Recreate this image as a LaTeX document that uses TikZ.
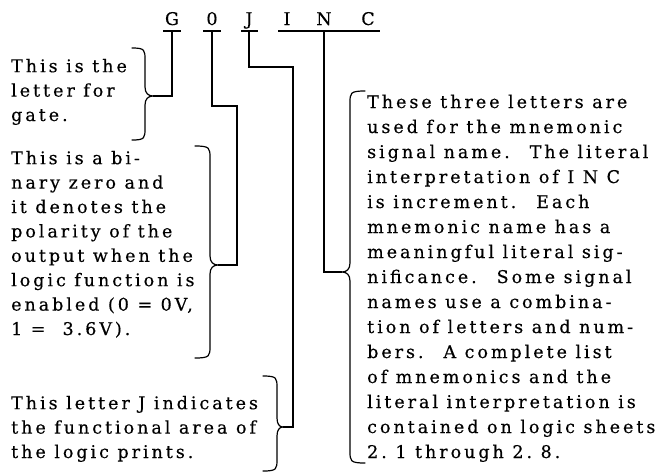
\documentclass[tikz,border=0pt]{standalone}
\usepackage{fontspec}
\usetikzlibrary{calc}
\newfontfamily\typefont[LetterSpace=17,FakeBold=0.4]{DejaVu Serif}

% curly brace: end x, spine x, tip x, top y, tip y, bottom y
\newcommand{\curly}[6]{%
  \draw[bracepath] (#1,#4)
    .. controls ({#2},{#4}) and ({#2},{#4+2}) .. ({#2},{#4+12})
    -- ({#2},{#5-9})
    .. controls ({#2},{#5-3}) and ({#2+(#3-#2)*0.4},{#5}) .. ({#3},{#5})
    .. controls ({#2+(#3-#2)*0.4},{#5}) and ({#2},{#5+3}) .. ({#2},{#5+9})
    -- ({#2},{#6-12})
    .. controls ({#2},{#6-2}) and ({#2},{#6}) .. ({#1},{#6});
}

\begin{document}
\begin{tikzpicture}[x=1pt,y=-1pt,
  txt/.style={font=\typefont\fontsize{17.5}{24.4}\selectfont, align=left,
              inner sep=0pt, anchor=base west},
  rtxt/.style={txt, font=\typefont\fontsize{17.5}{25}\selectfont},
  letter/.style={font=\typefont\fontsize{17.5}{20}\selectfont,
                 inner sep=0pt, anchor=base},
  link/.style={line width=1.1pt},
  uline/.style={line width=1.1pt},
  bracepath/.style={line width=1.2pt, line cap=round}]
\useasboundingbox[fill=white] (0,0) rectangle (657,475);

% the signal name
\node[letter] (G)    at (172,25) {G};
\node[letter] (zero) at (212,25) {0};
\node[letter] (J)    at (249,25) {J};
\node[letter] (I)    at (287,25) {I};
\node[letter] (N)    at (324,25) {N};
\node[letter] (C)    at (368,25) {C};

\coordinate (ul) at (0,31);
\draw[uline] ($(G |- ul)+(-9,0)$) -- ($(G |- ul)+(9,0)$);
\draw[uline] ($(zero |- ul)+(-9,0)$) -- ($(zero |- ul)+(9,0)$);
\draw[uline] ($(J |- ul)+(-8,0)$) -- ($(J |- ul)+(9,0)$);
\draw[uline] ($(I |- ul)+(-9,0)$) -- ($(C |- ul)+(12,0)$);

% explanations (each node is placed by the baseline of its last line)
\node[txt] (gtext) at (11,121) {This is the\\letter for\\gate.};
\node[txt] (zerotext) at (11,335) {This is a bi-\\nary zero and\\it denotes the\\polarity of the\\output when the\\logic function is\\enabled (0 = 0V,\\1 =~ 3.6V).};
\node[txt] (jtext) at (11,458) {This letter J indicates\\the functional area of\\the logic prints.};
\node[rtxt] (inctext) at (367,458) {These three letters are\\used for the mnemonic\\signal name.~ The literal\\interpretation of I N C\\is increment.~ Each\\mnemonic name has a\\meaningful literal sig-\\nificance.~ Some signal\\names use a combina-\\tion of letters and num-\\bers.~ A complete list\\of mnemonics and the\\literal interpretation is\\contained on logic sheets\\2.\ 1 through 2.\ 8.};

% brace tips and bends
\coordinate (tipG) at (153,96);
\coordinate (bend0) at (237,106);
\coordinate (tip0) at (218,265);
\coordinate (bendJ) at (293,67);
\coordinate (tipJ) at (283,427);
\coordinate (tipN) at (342,272);

% connectors from the letters to the braces
\draw[link] (G |- ul) |- (tipG);
\draw[link] (zero |- ul) |- (bend0) |- (tip0);
\draw[link] (J |- ul) |- (bendJ) |- (tipJ);
\draw[link] (N |- ul) |- (tipN);

% braces
\curly{132}{145}{153}{48}{96}{140}
\curly{195}{210}{218}{146}{265}{358}
\curly{263}{277}{283}{376}{427}{471}
\curly{365}{350}{342}{91}{272}{463}
\end{tikzpicture}
\end{document}
